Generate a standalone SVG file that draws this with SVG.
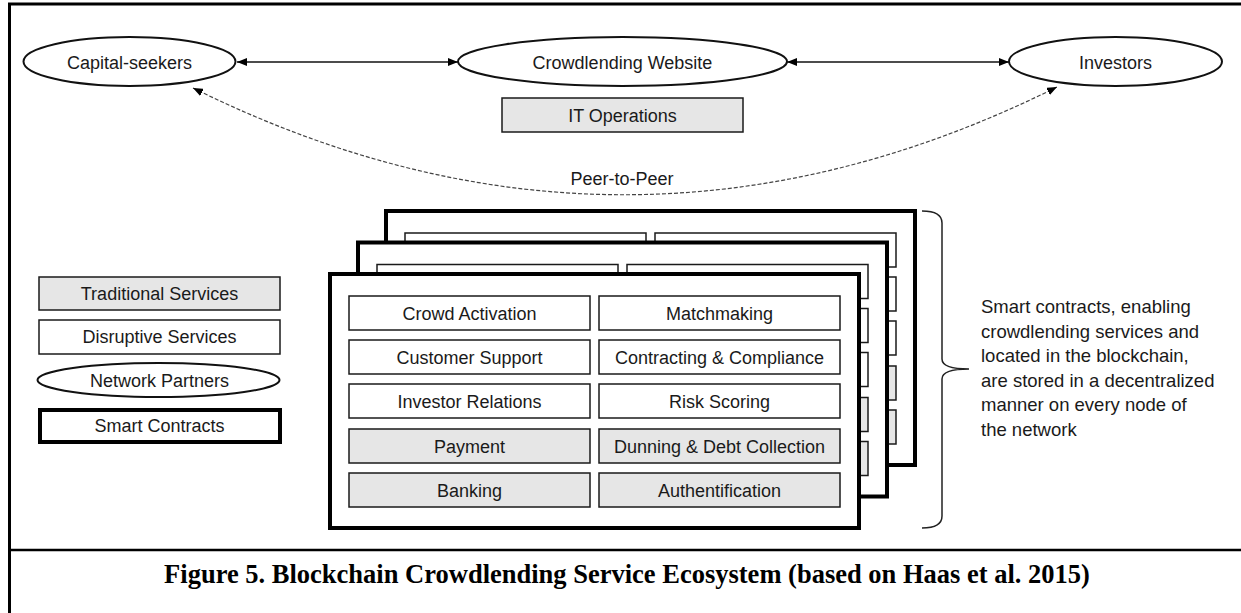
<svg xmlns="http://www.w3.org/2000/svg" xmlns:xlink="http://www.w3.org/1999/xlink" width="1241" height="613" viewBox="0 0 1241 613">
<style>
  .lbl { font-family: "Liberation Sans", Arial, sans-serif; font-size: 18px; fill: #1a1a1a; text-anchor: middle; }
  .note { font-family: "Liberation Sans", Arial, sans-serif; font-size: 18.5px; fill: #1a1a1a; }
  .cap { font-family: "Liberation Serif", "Times New Roman", serif; font-size: 26.5px; font-weight: bold; fill: #000; text-anchor: middle; }
  .ell { fill: #fff; stroke: #111; stroke-width: 2; }
  .svc { fill: #fff; stroke: #1a1a1a; stroke-width: 1.5; }
  .trad { fill: #e6e6e6; stroke: #1a1a1a; stroke-width: 1.5; }
  .panel { fill: #fff; stroke: #000; stroke-width: 4; }
  .conn { fill: none; stroke: #111; stroke-width: 1.3; }
  .dash { fill: none; stroke: #444; stroke-width: 1.2; stroke-dasharray: 4 2; }
</style>
<defs>
  <marker id="arr" viewBox="0 0 10 8" refX="10" refY="4" markerWidth="10" markerHeight="8" markerUnits="userSpaceOnUse" orient="auto-start-reverse">
    <path d="M0,0 L10,4 L0,8 Z" fill="#000"/>
  </marker>
  <g id="panelTpl">
    <rect class="panel" x="0" y="0" width="529" height="254"/>
    <rect class="svc" x="19" y="22" width="241" height="34"/>
    <rect class="svc" x="269" y="22" width="241" height="34"/>
    <rect class="svc" x="19" y="66" width="241" height="34"/>
    <rect class="svc" x="269" y="66" width="241" height="34"/>
    <rect class="svc" x="19" y="110" width="241" height="34"/>
    <rect class="svc" x="269" y="110" width="241" height="34"/>
    <rect class="trad" x="19" y="155" width="241" height="34"/>
    <rect class="trad" x="269" y="155" width="241" height="34"/>
    <rect class="trad" x="19" y="199" width="241" height="34"/>
    <rect class="trad" x="269" y="199" width="241" height="34"/>
  </g>
</defs>
<rect width="1241" height="613" fill="#fff"/>

<!-- frame -->
<g id="frame" fill="none" stroke="#000">
  <path d="M9.5,613 L9.5,4 L1250,4" stroke-width="3"/>
  <path d="M9.5,550 L1250,550" stroke-width="2.5"/>
</g>

<!-- connectors -->
<g id="connectors">
  <line class="conn" x1="237" y1="62" x2="458" y2="62" marker-start="url(#arr)" marker-end="url(#arr)"/>
  <line class="conn" x1="787" y1="62" x2="1009" y2="62" marker-start="url(#arr)" marker-end="url(#arr)"/>
  <path class="dash" d="M193,88 Q625,302 1057,87" marker-start="url(#arr)" marker-end="url(#arr)"/>
  <text class="lbl" x="622" y="185">Peer-to-Peer</text>
</g>

<!-- top nodes -->
<g id="capital-seekers">
  <ellipse class="ell" cx="129.5" cy="61.5" rx="106" ry="24.5"/>
  <text class="lbl" x="129.5" y="68.5">Capital-seekers</text>
</g>
<g id="crowdlending-website">
  <ellipse class="ell" cx="622.5" cy="61.5" rx="164.5" ry="24.5"/>
  <text class="lbl" x="622.5" y="68.5">Crowdlending Website</text>
</g>
<g id="investors">
  <ellipse class="ell" cx="1115.5" cy="61.5" rx="106.5" ry="24.5"/>
  <text class="lbl" x="1115.5" y="68.5">Investors</text>
</g>
<g id="it-operations">
  <rect class="trad" x="502" y="98" width="241" height="34"/>
  <text class="lbl" x="622.5" y="121.5">IT Operations</text>
</g>

<!-- stacked smart contracts -->
<g id="smart-contracts-back">
  <use xlink:href="#panelTpl" transform="translate(386,211)"/>
</g>
<g id="smart-contracts-middle">
  <use xlink:href="#panelTpl" transform="translate(358,242.5)"/>
</g>
<g id="smart-contracts-front">
  <rect class="panel" x="330" y="274" width="529" height="254"/>
  <g id="crowd-activation"><rect class="svc" x="349" y="296" width="241" height="34"/><text class="lbl" x="469.5" y="319.5">Crowd Activation</text></g>
  <g id="matchmaking"><rect class="svc" x="599" y="296" width="241" height="34"/><text class="lbl" x="719.5" y="319.5">Matchmaking</text></g>
  <g id="customer-support"><rect class="svc" x="349" y="340" width="241" height="34"/><text class="lbl" x="469.5" y="363.5">Customer Support</text></g>
  <g id="contracting-compliance"><rect class="svc" x="599" y="340" width="241" height="34"/><text class="lbl" x="719.5" y="363.5">Contracting &amp; Compliance</text></g>
  <g id="investor-relations"><rect class="svc" x="349" y="384" width="241" height="34"/><text class="lbl" x="469.5" y="407.5">Investor Relations</text></g>
  <g id="risk-scoring"><rect class="svc" x="599" y="384" width="241" height="34"/><text class="lbl" x="719.5" y="407.5">Risk Scoring</text></g>
  <g id="payment"><rect class="trad" x="349" y="429" width="241" height="34"/><text class="lbl" x="469.5" y="452.5">Payment</text></g>
  <g id="dunning"><rect class="trad" x="599" y="429" width="241" height="34"/><text class="lbl" x="719.5" y="452.5">Dunning &amp; Debt Collection</text></g>
  <g id="banking"><rect class="trad" x="349" y="473" width="241" height="34"/><text class="lbl" x="469.5" y="496.5">Banking</text></g>
  <g id="authentification"><rect class="trad" x="599" y="473" width="241" height="34"/><text class="lbl" x="719.5" y="496.5">Authentification</text></g>
</g>

<!-- legend -->
<g id="legend-traditional">
  <rect class="trad" x="39" y="277" width="241" height="33"/>
  <text class="lbl" x="159.5" y="299.5">Traditional Services</text>
</g>
<g id="legend-disruptive">
  <rect class="svc" x="39" y="320" width="241" height="34"/>
  <text class="lbl" x="159.5" y="343">Disruptive Services</text>
</g>
<g id="legend-network">
  <ellipse class="ell" cx="158.5" cy="380" rx="121" ry="17" stroke-width="1.5"/>
  <text class="lbl" x="159.5" y="386.5">Network Partners</text>
</g>
<g id="legend-smart">
  <rect class="panel" x="40" y="410" width="240" height="32"/>
  <text class="lbl" x="159.5" y="432">Smart Contracts</text>
</g>

<!-- brace and note -->
<g id="brace-note">
  <path d="M922,211 Q942,211 942,223 L942,359 Q942,369 969,369 Q942,369 942,379 L942,516 Q942,528 922,528" fill="none" stroke="#222" stroke-width="1.5"/>
  <text class="note" x="981" y="313">Smart contracts, enabling</text>
  <text class="note" x="981" y="337.5">crowdlending services and</text>
  <text class="note" x="981" y="362">located in the blockchain,</text>
  <text class="note" x="981" y="386.5">are stored in a decentralized</text>
  <text class="note" x="981" y="411">manner on every node of</text>
  <text class="note" x="981" y="435.5">the network</text>
</g>

<!-- caption -->
<text id="caption" class="cap" x="627" y="583">Figure 5. Blockchain Crowdlending Service Ecosystem (based on Haas et al. 2015)</text>
</svg>
